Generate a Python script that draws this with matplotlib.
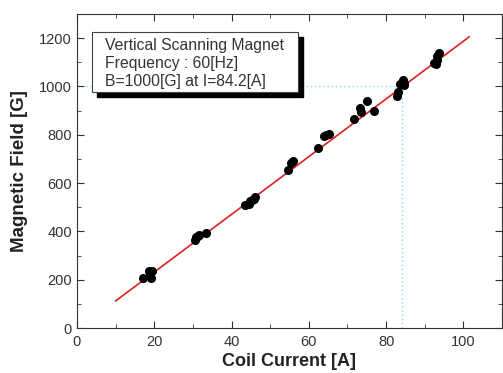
import matplotlib.pyplot as plt
from matplotlib.patches import Rectangle
from matplotlib.ticker import MultipleLocator

plt.rcParams['font.family'] = ['Liberation Sans', 'DejaVu Sans']

# measured points (coil current [A], field [G])
current = [17.0, 18.7, 19.2, 19.0, 19.3,
           30.5, 30.7, 31.4, 31.7, 33.3,
           43.5, 44.4, 44.8, 45.3, 45.7, 46.1,
           54.7, 55.5, 56.0,
           62.4, 64.0, 64.5, 65.2,
           71.6, 73.3, 73.5, 75.0, 76.9,
           82.9, 83.1, 83.6, 84.3, 84.6, 84.7,
           92.3, 93.0, 93.3, 93.8, 93.2]
field = [207, 234, 207, 221, 237,
         366, 377, 382, 386, 393,
         510, 514, 524, 531, 535, 541,
         655, 683, 692,
         745, 793, 800, 803,
         866, 910, 894, 938, 897,
         959, 979, 1011, 1028, 1014, 1007,
         1097, 1094, 1124, 1138, 1110]

# linear fit end points
fit_x = [10, 101.5]
fit_y = [112, 1205]

# reference point
ref_i = 84.2
ref_b = 1000

info_lines = ["Vertical Scanning Magnet", "Frequency : 60[Hz]", "B=1000[G] at I=84.2[A]"]

fig = plt.figure(figsize=(5.03, 3.73), dpi=100)
ax = fig.add_axes([0.153, 0.1206, 0.845, 0.842])

ax.plot([0, ref_i], [ref_b, ref_b], color='#7fe0e8', ls=(0, (1, 2)), lw=1.0, zorder=1)
ax.plot([ref_i, ref_i], [0, ref_b], color='#7fe0e8', ls=(0, (1, 2)), lw=1.0, zorder=1)
ax.plot(fit_x, fit_y, color='#e02020', lw=1.2, zorder=3)
ax.plot(current, field, 'o', color='black', ms=5.5, zorder=4)

ax.set_xlim(0, 110)
ax.set_ylim(0, 1300)
ax.xaxis.set_major_locator(MultipleLocator(20))
ax.xaxis.set_minor_locator(MultipleLocator(10))
ax.yaxis.set_major_locator(MultipleLocator(200))
ax.yaxis.set_minor_locator(MultipleLocator(100))
ax.tick_params(which='both', direction='in', top=True, right=True,
               labelsize=10.5, labelcolor='#333333', color='#333333')
ax.tick_params(which='major', length=5)
ax.tick_params(which='minor', length=3)
ax.tick_params(axis='x', pad=5)
for s in ax.spines.values():
    s.set_color('#333333')

ax.set_xlabel('Coil Current [A]', fontsize=13, fontweight='bold', color='#222222', labelpad=3)
ax.set_ylabel('Magnetic Field [G]', fontsize=13.5, fontweight='bold', color='#222222', labelpad=8)

# info box with shadow
ax.add_patch(Rectangle((0.047, 0.736), 0.484, 0.19, transform=ax.transAxes,
                       facecolor='black', edgecolor='black', zorder=5))
ax.add_patch(Rectangle((0.035, 0.752), 0.484, 0.19, transform=ax.transAxes,
                       facecolor='white', edgecolor='#444444', lw=0.8, zorder=6))
for k, line in enumerate(info_lines):
    ax.text(0.066, 0.898 - k * 0.057, line, transform=ax.transAxes, fontsize=11.3,
            color='#333333', va='center', ha='left', zorder=7)

fig.savefig('out.png', dpi=100)
